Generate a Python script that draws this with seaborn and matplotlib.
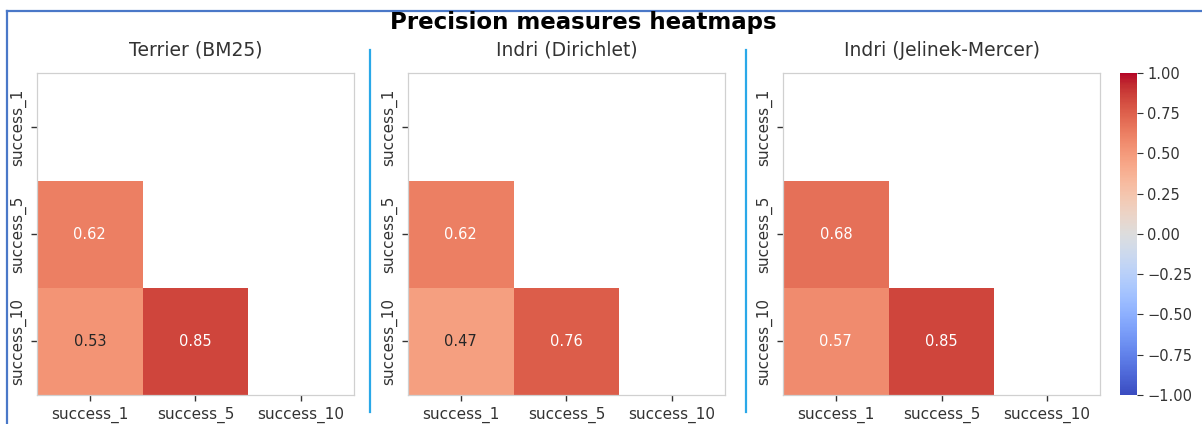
import numpy as np
import pandas as pd
import matplotlib
matplotlib.use("Agg")
import matplotlib.pyplot as plt
import seaborn as sns
from matplotlib.lines import Line2D

# ---- data ----
measures = ["success_1", "success_5", "success_10"]
titles = ["Terrier (BM25)", "Indri (Dirichlet)", "Indri (Jelinek-Mercer)"]
# lower-triangle correlations: (s5,s1), (s10,s1), (s10,s5)
terrier_corr = [0.62, 0.53, 0.85]
dirichlet_corr = [0.62, 0.47, 0.76]
jm_corr = [0.68, 0.57, 0.85]
cbar_ticks = [-1.00, -0.75, -0.50, -0.25, 0.00, 0.25, 0.50, 0.75, 1.00]

plt.rcParams["font.family"] = ["DejaVu Sans"]


def build_matrix(vals):
    m = np.eye(3)
    m[1, 0] = m[0, 1] = vals[0]
    m[2, 0] = m[0, 2] = vals[1]
    m[2, 1] = m[1, 2] = vals[2]
    return pd.DataFrame(m, index=measures, columns=measures)


mats = [build_matrix(v) for v in (terrier_corr, dirichlet_corr, jm_corr)]
mask = np.triu(np.ones((3, 3), dtype=bool))

W, H = 1202, 424
fig = plt.figure(figsize=(W / 100, H / 100), dpi=100)


def fx(x):
    return x / W


def fy(y):
    return 1 - y / H


ax_top, ax_bot = 73.3, 395
lefts = [37, 408, 783]
aw = 317
axes = [fig.add_axes([fx(l), fy(ax_bot), aw / W, (ax_bot - ax_top) / H]) for l in lefts]
cax = fig.add_axes([fx(1119.5), fy(395), 17.5 / W, (395 - 72.7) / H])

for i, (ax, df, t) in enumerate(zip(axes, mats, titles)):
    last = i == 2
    sns.heatmap(df, mask=mask, cmap="coolwarm", vmin=-1, vmax=1, annot=True,
                fmt=".2f", ax=ax, cbar=last, cbar_ax=cax if last else None,
                annot_kws={"fontsize": 10.5})
    ax.set_title(t, fontsize=13.5, pad=12.5, color="#333333")
    for s in ax.spines.values():
        s.set_visible(True)
        s.set_color("#d0d0d0")
        s.set_linewidth(0.9)
    ax.tick_params(axis="both", labelsize=11, colors="#333333", length=4, width=1)
    ax.tick_params(axis="x", pad=4.5)
    ax.tick_params(axis="y", pad=4)
    ax.set_yticklabels(ax.get_yticklabels(), rotation=90, va="center")
    ax.set_xticklabels(ax.get_xticklabels(), rotation=0)

cb = axes[2].collections[0].colorbar
cb.set_ticks(cbar_ticks)
cb.ax.tick_params(labelsize=10.5, colors="#333333", length=4)

fig.text(fx(583), fy(28.5), "Precision measures heatmaps", ha="center", va="baseline",
         fontsize=16.5, fontweight="bold")

# separators
for x in (370, 746):
    fig.add_artist(Line2D([fx(x), fx(x)], [fy(50), fy(412)], color="#2aa8e8", lw=1.6))
# border
fig.add_artist(Line2D([fx(7), fx(1202)], [fy(11), fy(11)], color="#4a78c8", lw=1.6))
fig.add_artist(Line2D([fx(7), fx(7)], [fy(11), fy(424)], color="#4a78c8", lw=1.6))

fig.savefig("out.png", dpi=100)
